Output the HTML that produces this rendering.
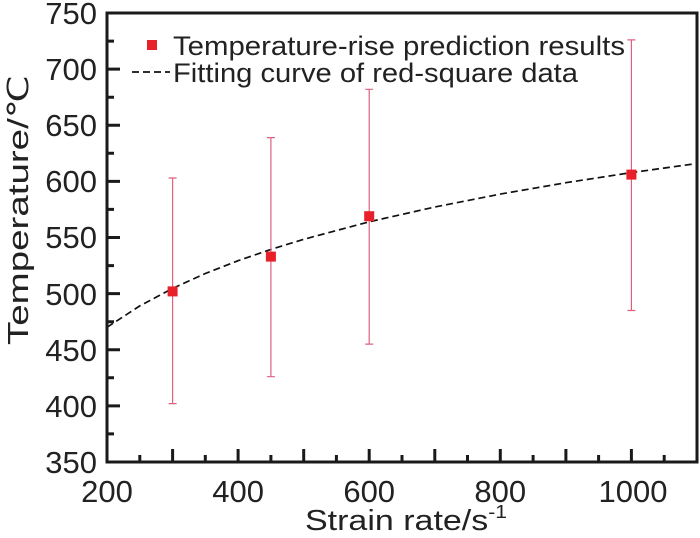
<!DOCTYPE html>
<html><head><style>body{margin:0;background:#fff}svg{display:block}text{font-family:"Liberation Sans",Arial,sans-serif;fill:#222}</style></head>
<body>
<svg width="700" height="538" viewBox="0 0 700 538">
<path d="M107,327.3L139.8,305.9L172.6,288.4L205.3,273.5L238.1,260.7L270.9,249.4L303.7,239.3L369.2,221.8L434.8,207L500.3,194.1L565.9,182.7L631.4,172.6L697,163.5" fill="none" stroke="#111" stroke-width="1.7" stroke-dasharray="7,4"/>
<g stroke="#e06080" stroke-width="1.2">
<path d="M172.6,403.6V178M168.6,403.6H176.6M168.6,178H176.6"/>
<path d="M270.9,376.7V137.6M266.9,376.7H274.9M266.9,137.6H274.9"/>
<path d="M369.2,344.1V89.3M365.2,344.1H373.2M365.2,89.3H373.2"/>
<path d="M631.4,310.5V39.9M627.4,310.5H635.4M627.4,39.9H635.4"/>
</g>
<g fill="#e8202a">
<rect x="167.6" y="286.4" width="10" height="10"/>
<rect x="265.9" y="251.6" width="10" height="10"/>
<rect x="364.2" y="211.2" width="10" height="10"/>
<rect x="626.4" y="169.6" width="10" height="10"/>
</g>
<g stroke="#1a1a1a" stroke-width="3" fill="none">
<path d="M238.1,462v-13M369.2,462v-13M500.3,462v-13M631.4,462v-13M139.8,462v-7M172.6,462v-13M205.3,462v-7M270.9,462v-7M303.7,462v-13M336.4,462v-7M402,462v-7M434.8,462v-13M467.5,462v-7M533.1,462v-7M565.9,462v-13M598.6,462v-7M664.2,462v-7"/>
<path d="M107,433.9h7M107,405.9h13M107,377.8h7M107,349.8h13M107,321.7h7M107,293.6h13M107,265.6h7M107,237.5h13M107,209.4h7M107,181.4h13M107,153.3h7M107,125.3h13M107,97.2h7M107,69.1h13M107,41.1h7"/>
<rect x="107" y="13" width="590" height="449"/>
</g>
<g font-size="31" text-anchor="middle">
<text x="107" y="502">200</text><text x="238.1" y="502">400</text><text x="369.2" y="502">600</text><text x="500.3" y="502">800</text><text x="633" y="502">1000</text>
</g>
<g font-size="31" text-anchor="end">
<text x="97" y="473">350</text><text x="97" y="417">400</text><text x="97" y="361">450</text><text x="97" y="305">500</text><text x="97" y="248">550</text><text x="97" y="192">600</text><text x="97" y="136">650</text><text x="97" y="80">700</text><text x="97" y="24">750</text>
</g>
<rect x="147" y="40" width="10" height="10" fill="#e8202a"/>
<text x="173" y="55" font-size="27" textLength="452" lengthAdjust="spacingAndGlyphs">Temperature-rise prediction results</text>
<line x1="132" x2="170" y1="72" y2="72" stroke="#111" stroke-width="1.7" stroke-dasharray="7,4"/>
<text x="173" y="82" font-size="27" textLength="405" lengthAdjust="spacingAndGlyphs">Fitting curve of red-square data</text>
<text transform="translate(28,345) rotate(-90)" font-size="29" textLength="270" lengthAdjust="spacingAndGlyphs">Temperature/℃</text>
<text x="305" y="530" font-size="29" textLength="202" lengthAdjust="spacingAndGlyphs">Strain rate/s<tspan font-size="18" dy="-12">-1</tspan></text>
</svg>
</body></html>
